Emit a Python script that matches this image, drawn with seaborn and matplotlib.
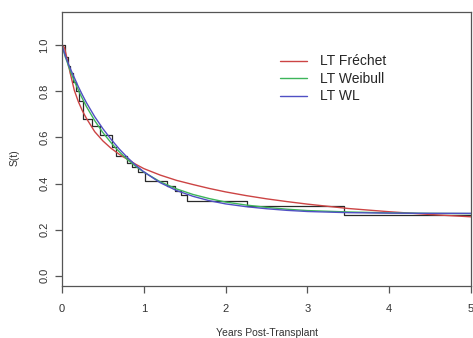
import matplotlib
matplotlib.use("Agg")
import matplotlib.pyplot as plt
import seaborn as sns
import pandas as pd

# Kaplan-Meier estimate (step function)
km_time = [0, 0.04, 0.07, 0.10, 0.13, 0.17, 0.21, 0.26, 0.37, 0.46, 0.61, 0.66,
           0.79, 0.86, 0.93, 1.01, 1.28, 1.38, 1.45, 1.53, 2.26, 3.45, 5.0]
km_surv = [1.0, 0.95, 0.91, 0.88, 0.84, 0.80, 0.76, 0.68, 0.65, 0.61, 0.56, 0.52,
           0.49, 0.47, 0.45, 0.413, 0.39, 0.37, 0.35, 0.326, 0.304, 0.265, 0.265]

# Fitted curves
t_grid = [0, 0.03, 0.05, 0.1, 0.15, 0.2, 0.25, 0.3, 0.4, 0.5, 0.6, 0.7, 0.8, 0.9,
          1.0, 1.2, 1.4, 1.6, 1.8, 2.0, 2.25, 2.5, 2.75, 3.0, 3.5, 4.0, 4.5, 5.0]
frechet = [1.0, 0.99, 0.96, 0.88, 0.805, 0.755, 0.715, 0.682, 0.625, 0.585,
           0.553, 0.527, 0.505, 0.484, 0.465, 0.437, 0.414, 0.396, 0.379, 0.364,
           0.348, 0.334, 0.322, 0.311, 0.292, 0.278, 0.266, 0.256]
weibull = [1.0, 0.962, 0.940, 0.890, 0.845, 0.805, 0.768, 0.733, 0.673, 0.621,
           0.577, 0.538, 0.504, 0.475, 0.450, 0.408, 0.377, 0.353, 0.335, 0.320,
           0.307, 0.297, 0.289, 0.283, 0.277, 0.273, 0.271, 0.270]
wl = [1.0, 0.966, 0.945, 0.900, 0.860, 0.820, 0.784, 0.750, 0.690, 0.638, 0.592,
      0.550, 0.513, 0.480, 0.451, 0.404, 0.370, 0.345, 0.326, 0.312, 0.300,
      0.291, 0.284, 0.279, 0.274, 0.272, 0.271, 0.271]

labels = ["LT Fréchet", "LT Weibull", "LT WL"]
colors = ["#cc4444", "#3db55a", "#5050c4"]
xticks = [0, 1, 2, 3, 4, 5]
yticks = [0.0, 0.2, 0.4, 0.6, 0.8, 1.0]

sns.set_style("white")
plt.rcParams["font.family"] = ["Liberation Sans", "DejaVu Sans"]

fig = plt.figure(figsize=(4.73, 3.38), dpi=100)
ax = fig.add_axes([62 / 473, 1 - 286 / 338, 409 / 473, 274 / 338])

km_df = pd.DataFrame({"t": km_time, "s": km_surv})
sns.lineplot(data=km_df, x="t", y="s", ax=ax, color="#2a2a2a", lw=0.9,
             drawstyle="steps-post", estimator=None, sort=False)

for vals, lab, col in zip([frechet, weibull, wl], labels, colors):
    df = pd.DataFrame({"t": t_grid, "s": vals})
    sns.lineplot(data=df, x="t", y="s", ax=ax, color=col, lw=1.0,
                 estimator=None, sort=False, label=lab)

ax.set_xlim(0, 5)
ax.set_ylim(-0.044, 1.144)
ax.set_xticks(xticks)
ax.set_xticklabels([str(v) for v in xticks])
ax.set_yticks(yticks)
ax.set_yticklabels([f"{v:.1f}" for v in yticks], rotation=90, va="center")
ax.tick_params(axis="both", which="major", bottom=True, left=True,
               direction="out", length=5, width=0.9,
               color="#555555", labelsize=8, labelcolor="#333333", pad=4)
ax.tick_params(axis="x", pad=8)
for sp in ax.spines.values():
    sp.set_color("#555555")
    sp.set_linewidth(0.9)

ax.set_xlabel("Years Post-Transplant", fontsize=7.5, color="#333333")
ax.set_ylabel("S(t)", fontsize=7.5, color="#333333")
ax.xaxis.set_label_coords(0.5, -0.155)
ax.yaxis.set_label_coords(-0.103, 0.47)

leg = ax.legend(loc="upper left", bbox_to_anchor=(0.533, 0.845), frameon=False,
                fontsize=10, handlelength=1.95, handletextpad=0.95,
                labelspacing=0.25, borderpad=0, borderaxespad=0)
for line in leg.get_lines():
    line.set_linewidth(1.0)

fig.savefig("out.png", dpi=100)
